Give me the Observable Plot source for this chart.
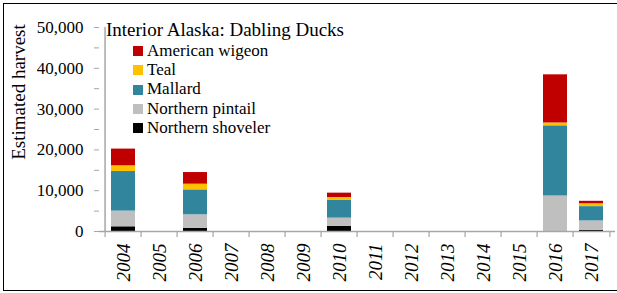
<!DOCTYPE html>
<html>
<head>
<meta charset="utf-8">
<script src="https://cdn.jsdelivr.net/npm/d3@7"></script>
<script src="https://cdn.jsdelivr.net/npm/@observablehq/plot@0.6"></script>
<style>
  html, body { margin: 0; padding: 0; background: #fff; }
  #wrap { position: relative; width: 617px; height: 293px; overflow: hidden; font-family: "Liberation Serif", "Times New Roman", serif; color: #000; }
  #frame { position: absolute; left: 3px; top: 3px; width: 700px; height: 288px; box-sizing: border-box; border: 1.5px solid #000; pointer-events: none; }
  #chart { position: absolute; left: 0; top: 0; }
  #ylabel { position: absolute; left: 18px; top: 92px; transform: translate(-50%, -50%) rotate(-90deg); white-space: nowrap; font-size: 19px; line-height: 19px; }
  #title { position: absolute; left: 106px; top: 20px; font-size: 19px; line-height: 19px; white-space: nowrap; }
  #legend { position: absolute; left: 133px; top: 40.6px; font-size: 17px; line-height: 19.4px; }
  #legend .row { display: flex; align-items: center; white-space: nowrap; height: 19.4px; }
  #legend .sw { width: 10px; height: 10px; margin-right: 4px; margin-top: 1px; }
  #chart svg g[aria-label="x-axis tick label"] text { font-style: italic; }
</style>
</head>
<body>
<div id="wrap">
  <div id="chart"></div>
  <div id="ylabel"></div>
  <div id="title"></div>
  <div id="legend"></div>
  <div id="frame"></div>
</div>
<script>
const chartTitle = "Interior Alaska: Dabling Ducks";
const yLabel = "Estimated harvest";
const years = ["2004","2005","2006","2007","2008","2009","2010","2011","2012","2013","2014","2015","2016","2017"];
// stacking order, bottom to top
const species = ["Northern shoveler", "Northern pintail", "Mallard", "Teal", "American wigeon"];
const speciesColors = ["#000000", "#BFBFBF", "#31859C", "#FFC000", "#C00000"];
// values per year (null = no estimate)
const shoveler = [1150, null,  750, null, null, null, 1230, null, null, null, null, null,     0,  300];
const pintail  = [3850, null, 3350, null, null, null, 2050, null, null, null, null, null,  8700, 2300];
const mallard  = [9700, null, 6100, null, null, null, 4420, null, null, null, null, null, 17200, 3500];
const teal     = [1400, null, 1400, null, null, null,  630, null, null, null, null, null,   700,  700];
const wigeon   = [4100, null, 2850, null, null, null, 1070, null, null, null, null, null, 11800,  600];
const yTicks = [0, 5000, 10000, 15000, 20000, 25000, 30000, 35000, 40000, 45000, 50000];

const seriesValues = [shoveler, pintail, mallard, teal, wigeon];
const rows = [];
species.forEach((s, k) => seriesValues[k].forEach((v, i) => {
  if (v != null && v > 0) rows.push({year: years[i], species: s, value: v});
}));

const W = 617, H = 293, mL = 99, mR = 2, mT = 27, mB = 62;
const step = (W - mL - mR) / years.length;
const gray = "#a6a6a6";
const fmt = d3.format(",");

const chart = Plot.plot({
  width: W, height: H,
  marginLeft: mL, marginRight: mR, marginTop: mT, marginBottom: mB,
  style: {fontFamily: "'Liberation Serif', 'Times New Roman', serif", fontSize: "17px", background: "transparent", color: "#000", overflow: "visible"},
  x: {domain: years, paddingInner: 0.33, paddingOuter: 0.165, align: 0.5, label: null},
  y: {domain: [0, 50000], label: null},
  color: {domain: species, range: speciesColors},
  marks: [
    Plot.barY(rows, {x: "year", y: "value", fill: "species", order: species}),
    Plot.ruleY([0], {stroke: gray, strokeWidth: 1.5}),
    Plot.ruleX(years.slice(0, 1), {x: d => d, dx: -step / 2, y1: 0, y2: 50000, stroke: gray, strokeWidth: 1.5}),
    Plot.ruleX(years, {x: d => d, dx: -step / 2, y1: 0, y2: 0, insetBottom: -6, stroke: gray, strokeWidth: 1.2}),
    Plot.ruleX(years.slice(-1), {x: d => d, dx: step / 2, y1: 0, y2: 0, insetBottom: -6, stroke: gray, strokeWidth: 1.2}),
    Plot.axisY({ticks: yTicks, tickSize: 5, tickPadding: 11, stroke: gray, fill: "#000", fontSize: 17,
      tickFormat: d => d % 10000 ? "" : fmt(d), label: null}),
    Plot.axisX({tickSize: 0, tickPadding: 12, tickRotate: -90, fontSize: 19, fontStyle: "italic", fill: "#000", label: null})
  ]
});
document.getElementById("chart").appendChild(chart);

document.getElementById("ylabel").textContent = yLabel;
document.getElementById("title").textContent = chartTitle;
const legend = document.getElementById("legend");
species.slice().reverse().forEach(s => {
  const row = document.createElement("div");
  row.className = "row";
  const sw = document.createElement("span");
  sw.className = "sw";
  sw.style.background = speciesColors[species.indexOf(s)];
  const t = document.createElement("span");
  t.textContent = s;
  row.appendChild(sw);
  row.appendChild(t);
  legend.appendChild(row);
});
</script>
</body>
</html>
